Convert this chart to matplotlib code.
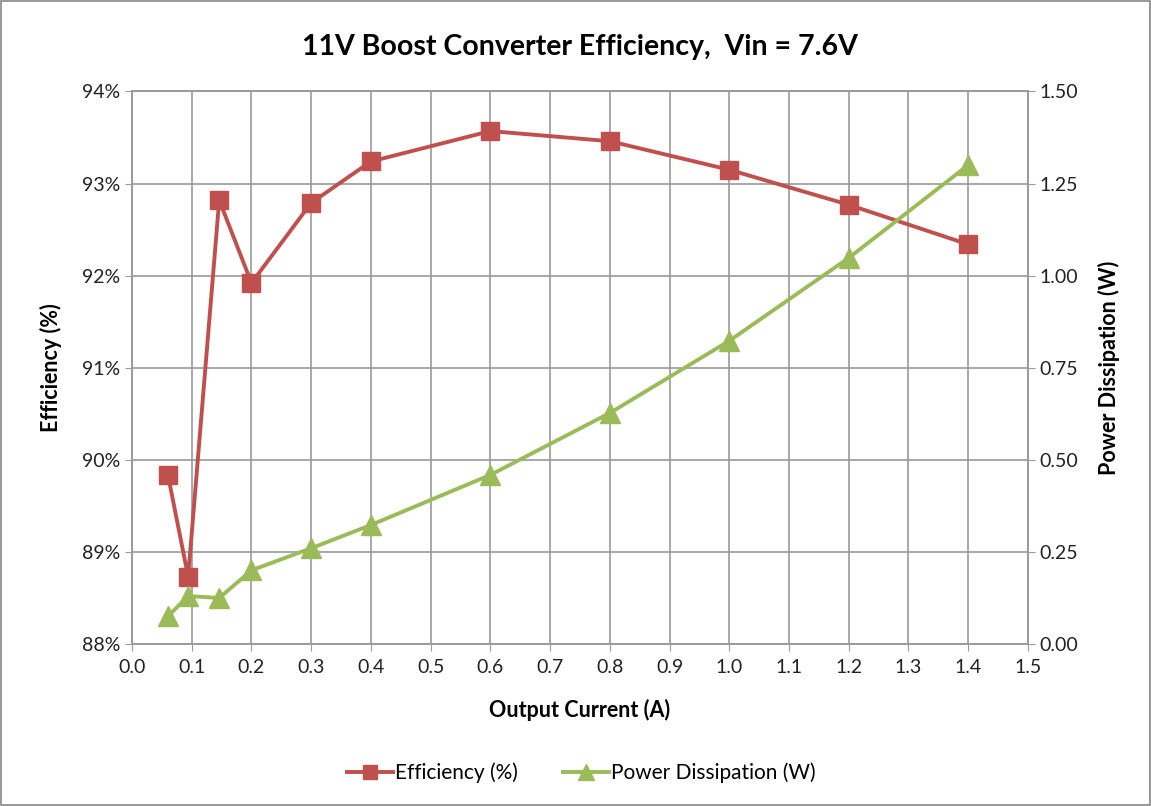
import matplotlib.pyplot as plt
from matplotlib.ticker import FuncFormatter, MultipleLocator

plt.rcParams['font.family'] = ['Lato', 'DejaVu Sans']

# Data
current = [0.06, 0.094, 0.146, 0.2, 0.3, 0.4, 0.6, 0.8, 1.0, 1.2, 1.4]
efficiency = [89.84, 88.73, 92.82, 91.92, 92.79, 93.24, 93.57, 93.46, 93.15, 92.77, 92.34]
power = [0.075, 0.13, 0.125, 0.20, 0.26, 0.323, 0.459, 0.627, 0.823, 1.048, 1.30]

red = '#C0504D'
green = '#9BBB59'
grid_color = '#9a9a9a'

fig = plt.figure(figsize=(11.51, 8.06), dpi=100)
ax = fig.add_axes([0.1147, 0.201, 0.7783, 0.6855])
ax2 = ax.twinx()

l1, = ax.plot(current, efficiency, color=red, lw=2.8, marker='s', markersize=13,
              label='Efficiency (%)', zorder=3)
l2, = ax2.plot(current, power, color=green, lw=2.8, marker='^', markersize=14,
               label='Power Dissipation (W)', zorder=3)

ax.set_xlim(0, 1.5)
ax.set_ylim(88, 94)
ax2.set_ylim(0, 1.5)
ax.xaxis.set_major_locator(MultipleLocator(0.1))
ax.yaxis.set_major_locator(MultipleLocator(1))
ax2.yaxis.set_major_locator(MultipleLocator(0.25))
ax.xaxis.set_major_formatter(FuncFormatter(lambda v, p: f'{v:.1f}'))
ax.yaxis.set_major_formatter(FuncFormatter(lambda v, p: f'{v:.0f}%'))
ax2.yaxis.set_major_formatter(FuncFormatter(lambda v, p: f'{v:.2f}'))

ax.grid(True, color=grid_color, lw=1.2)
ax.set_axisbelow(True)
for a in (ax, ax2):
    for s in a.spines.values():
        s.set_color(grid_color)
        s.set_linewidth(1.2)
    a.tick_params(length=5, color=grid_color, labelsize=14, labelcolor='#222222')
ax.tick_params(axis='x', pad=6)

ax.set_xlabel('Output Current (A)', fontsize=15.5, fontweight='bold', labelpad=16)
ax.set_ylabel('Efficiency (%)', fontsize=15.5, fontweight='bold', labelpad=14)
ax2.set_ylabel('Power Dissipation (W)', fontsize=15.5, fontweight='bold', labelpad=14)
ax.set_title('11V Boost Converter Efficiency,  Vin = 7.6V', fontsize=20.5, fontweight='bold', pad=26)

fig.legend(handles=[l1, l2], loc='center', bbox_to_anchor=(0.505, 0.041), ncol=2,
           frameon=False, fontsize=15, handlelength=2.2, handletextpad=0.1,
           columnspacing=2.2, markerscale=0.8)

fig.patches.append(plt.Rectangle((0.001, 0.001), 0.998, 0.998, transform=fig.transFigure,
                                 fill=False, edgecolor='#888888', lw=1.2))

fig.savefig('out.png', dpi=100)
